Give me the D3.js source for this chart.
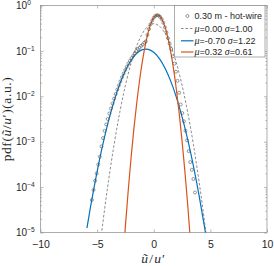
<!DOCTYPE html>
<html>
<head>
<meta charset="utf-8">
<script src="https://cdn.jsdelivr.net/npm/d3@7"></script>
<style>
  body { margin: 0; background: #fff; }
  svg { display: block; }
</style>
</head>
<body>
<svg></svg>
<script>
const width = 274;
const height = 266;

// hot-wire pdf samples (circles)
const hwX = [-5.46, -5.32, -5.18, -5.04, -4.90, -4.76, -4.62, -4.48, -4.34, -4.20, -4.06, -3.92, -3.78,
  -3.64, -3.50, -3.36, -3.22, -3.08, -2.94, -2.80, -2.66, -2.52, -2.38, -2.24, -2.10, -1.96, -1.82,
  -1.68, -1.54, -1.40, -1.26, -1.12, -0.98, -0.84, -0.70, -0.56, -0.42, -0.28, -0.14, 0.00, 0.14,
  0.28, 0.42, 0.56, 0.70, 0.84, 0.98, 1.12, 1.26, 1.40, 1.54, 1.68, 1.82, 1.96, 2.10, 2.24, 2.38,
  2.52, 2.66, 2.80, 2.94, 3.08, 3.22, 3.36, 3.50, 3.64];
const hwY = [5.2e-5, 8.7e-5, 1.38e-4, 2.0e-4, 3.16e-4, 4.68e-4, 7.9e-4, 1.2e-3, 1.74e-3, 2.4e-3, 3.16e-3,
  4.17e-3, 5.37e-3, 6.9e-3, 8.9e-3, 0.0112, 0.0141, 0.0174, 0.0214, 0.0263, 0.0316, 0.038, 0.0447,
  0.0525, 0.0603, 0.0692, 0.0776, 0.0891, 0.100, 0.110, 0.117, 0.129, 0.138, 0.151, 0.162, 0.224,
  0.302, 0.389, 0.468, 0.537, 0.589, 0.61, 0.603, 0.562, 0.501, 0.417, 0.331, 0.257, 0.191, 0.145,
  0.110, 0.0759, 0.0525, 0.0347, 0.0219, 0.012, 6.6e-3, 4.27e-3, 2.82e-3, 1.74e-3, 1.07e-3, 6.2e-4,
  3.55e-4, 2.4e-4, 1.51e-4, 7.6e-5];

// mu=0.00 sigma=1.00 (dashed)
const normX = [-5, -4.5, -4, -3.5, -3, -2.5, -2, -1.5, -1, -0.5, 0, 0.5, 1, 1.5, 2, 2.5, 3, 3.5, 4, 4.5, 5];
const normY = [1.49e-6, 1.6e-5, 1.34e-4, 8.73e-4, 4.43e-3, 0.0175, 0.054, 0.1295, 0.242, 0.352, 0.399,
  0.352, 0.242, 0.1295, 0.054, 0.0175, 4.43e-3, 8.73e-4, 1.34e-4, 1.6e-5, 1.49e-6];

// mu=-0.70 sigma=1.22 (blue)
const blueX = [-5.9, -5.5, -5, -4.5, -4, -3.5, -3, -2.5, -2, -1.5, -1, -0.5, 0, 0.5, 1, 1.5, 2, 2.5, 3,
  3.5, 4, 4.5, 5];
const blueY = [1.25e-5, 4.78e-5, 2.2e-4, 8.59e-4, 2.83e-3, 7.89e-3, 0.0186, 0.037, 0.0623, 0.0887,
  0.1066, 0.1084, 0.0932, 0.0678, 0.0416, 0.0216, 9.49e-3, 3.52e-3, 1.11e-3, 2.93e-4, 6.58e-5,
  1.25e-5, 2.0e-6];

// mu=0.32 sigma=0.61 (red)
const redX = [-2.75, -2.5, -2.25, -2, -1.75, -1.5, -1.25, -1, -0.75, -0.5, -0.25, 0, 0.25, 0.5, 0.75,
  1, 1.25, 1.5, 1.75, 2, 2.25, 2.5, 2.75, 3, 3.25];
const redY = [1.96e-6, 1.42e-5, 8.66e-5, 4.48e-4, 1.96e-3, 7.23e-3, 0.0226, 0.0597, 0.1331, 0.2512,
  0.4005, 0.5405, 0.6161, 0.5936, 0.4836, 0.3331, 0.1939, 0.0954, 0.0397, 0.01397, 4.15e-3,
  1.045e-3, 2.22e-4, 3.99e-5, 6.05e-6];

const xTicks = [-10, -5, 0, 5, 10];
const yDecades = [1e-5, 1e-4, 1e-3, 1e-2, 1e-1, 1];
const yExponents = ["\u22125", "\u22124", "\u22123", "\u22122", "\u22121", "0"];

const legendItems = [
  { type: "circle", label: "0.30 m - hot-wire" },
  { type: "dash", color: "#7f7f7f", mu: "0.00", sigma: "1.00" },
  { type: "line", color: "#0072BD", mu: "-0.70", sigma: "1.22" },
  { type: "line", color: "#D95319", mu: "0.32", sigma: "0.61" }
];

const pLeft = 40.5, pRight = 267, pTop = 5.5, pBottom = 232.5;
const axisColor = "#8a8a8a";
const sans = "Liberation Sans, Arial, sans-serif";
const serif = "Liberation Serif, Times New Roman, serif";

const svg = d3.select("svg")
    .attr("width", width)
    .attr("height", height);

const x = d3.scaleLinear().domain([-10, 10]).range([pLeft, pRight]);
const y = d3.scaleLog().domain([1e-5, 1]).range([pBottom, pTop]);

svg.append("clipPath").attr("id", "plot")
  .append("rect")
    .attr("x", pLeft).attr("y", pTop)
    .attr("width", pRight - pLeft).attr("height", pBottom - pTop);

// minor log ticks
const minors = [];
yDecades.slice(0, -1).forEach(d => {
    for (let k = 2; k <= 9; k++) minors.push(d * k);
});

function styleAxis(g) {
    g.selectAll("path").remove();
    g.selectAll("line").attr("stroke", axisColor).attr("stroke-width", 0.6);
}

svg.append("g").attr("transform", `translate(0,${pBottom})`)
    .call(d3.axisBottom(x).tickValues(xTicks).tickSize(-3).tickPadding(8))
    .call(styleAxis)
    .call(g => g.selectAll("text")
        .attr("fill", "#262626")
        .style("font-family", sans)
        .style("font-size", "10.5px"));

svg.append("g").attr("transform", `translate(0,${pTop})`)
    .call(d3.axisTop(x).tickValues(xTicks).tickSize(-3).tickFormat(""))
    .call(styleAxis);

[[pLeft, d3.axisLeft], [pRight, d3.axisRight]].forEach(([pos, ax]) => {
    svg.append("g").attr("transform", `translate(${pos},0)`)
        .call(ax(y).tickValues(yDecades).tickSize(-3).tickFormat(""))
        .call(styleAxis);
    svg.append("g").attr("transform", `translate(${pos},0)`)
        .call(ax(y).tickValues(minors).tickSize(-1.6).tickFormat(""))
        .call(styleAxis);
});

// y tick labels 10^n
yDecades.forEach((d, i) => {
    const t = svg.append("text")
        .attr("x", 16)
        .attr("y", y(d) + 3.6)
        .attr("fill", "#262626")
        .style("font-family", sans)
        .style("font-size", "10px");
    t.append("tspan").text("10");
    t.append("tspan")
        .attr("dy", -3.7)
        .style("font-size", "6.6px")
        .text(yExponents[i]);
});

// box
svg.append("rect")
    .attr("x", pLeft).attr("y", pTop)
    .attr("width", pRight - pLeft).attr("height", pBottom - pTop)
    .attr("fill", "none")
    .attr("stroke", axisColor)
    .attr("stroke-width", 0.7);

const plot = svg.append("g").attr("clip-path", "url(#plot)");

const line = d3.line()
    .x(d => x(d[0]))
    .y(d => y(d[1]))
    .curve(d3.curveCatmullRom);

plot.append("path")
    .datum(d3.zip(normX, normY))
    .attr("d", line)
    .attr("fill", "none")
    .attr("stroke", "#7f7f7f")
    .attr("stroke-width", 0.9)
    .attr("stroke-dasharray", "2.6,1.8");

plot.append("path")
    .datum(d3.zip(blueX, blueY))
    .attr("d", line)
    .attr("fill", "none")
    .attr("stroke", "#0072BD")
    .attr("stroke-width", 1.2);

plot.append("path")
    .datum(d3.zip(redX, redY))
    .attr("d", line)
    .attr("fill", "none")
    .attr("stroke", "#D95319")
    .attr("stroke-width", 1.2);

plot.selectAll(".hw")
    .data(d3.zip(hwX, hwY))
    .enter().append("circle")
    .attr("class", "hw")
    .attr("cx", d => x(d[0]))
    .attr("cy", d => y(d[1]))
    .attr("r", 1.5)
    .attr("fill", "none")
    .attr("stroke", "#555")
    .attr("stroke-width", 0.6);

// legend
const lg = svg.append("g");
lg.append("rect")
    .attr("x", 174.5).attr("y", 5.5)
    .attr("width", 90.5).attr("height", 51.5)
    .attr("fill", "#fff")
    .attr("stroke", axisColor)
    .attr("stroke-width", 0.7);

const rowY = [16, 28.5, 40.8, 52];
legendItems.forEach((it, i) => {
    const cy = rowY[i];
    if (it.type === "circle") {
        lg.append("circle")
            .attr("cx", 187.5).attr("cy", cy).attr("r", 1.5)
            .attr("fill", "none").attr("stroke", "#555").attr("stroke-width", 0.6);
    } else {
        lg.append("line")
            .attr("x1", 181).attr("x2", 193.5)
            .attr("y1", cy).attr("y2", cy)
            .attr("stroke", it.color)
            .attr("stroke-width", it.type === "dash" ? 0.9 : 1.2)
            .attr("stroke-dasharray", it.type === "dash" ? "2.6,1.8" : null);
    }
    const t = lg.append("text")
        .attr("x", 194.5)
        .attr("y", cy + 3.2)
        .attr("fill", "#262626")
        .style("font-family", sans)
        .style("font-size", "9px");
    if (it.label) {
        t.text(it.label);
    } else {
        t.append("tspan").style("font-family", serif).style("font-style", "italic")
            .style("font-size", "10px").text("\u03bc");
        t.append("tspan").text("=" + it.mu + " ");
        t.append("tspan").style("font-family", serif).style("font-style", "italic")
            .style("font-size", "10px").text("\u03c3");
        t.append("tspan").text("=" + it.sigma);
    }
});

// axis labels
const xl = svg.append("text")
    .attr("x", (pLeft + pRight) / 2)
    .attr("y", 263)
    .attr("text-anchor", "middle")
    .attr("fill", "#262626")
    .style("font-family", serif)
    .style("font-size", "13.5px")
    .style("letter-spacing", "1.2px");
xl.append("tspan").style("font-style", "italic").text("\u0169");
xl.append("tspan").text("/");
xl.append("tspan").style("font-style", "italic").text("u");
xl.append("tspan").text("\u2032");

const yl = svg.append("text")
    .attr("transform", `translate(10.5,${(pTop + pBottom) / 2}) rotate(-90)`)
    .attr("text-anchor", "middle")
    .attr("fill", "#262626")
    .style("font-family", serif)
    .style("font-size", "13.5px")
    .style("letter-spacing", "0.6px");
yl.append("tspan").text("pdf(");
yl.append("tspan").style("font-style", "italic").text("\u0169");
yl.append("tspan").text("/");
yl.append("tspan").style("font-style", "italic").text("u");
yl.append("tspan").text("\u2032)(a.u.)");
</script>
</body>
</html>
